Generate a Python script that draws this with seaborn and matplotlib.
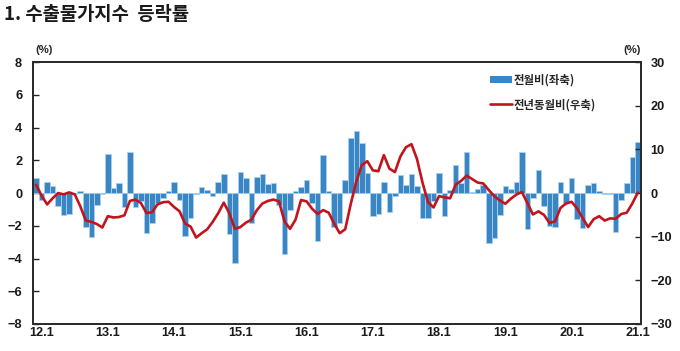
import pandas as pd
import matplotlib.pyplot as plt
import seaborn as sns
from matplotlib.patches import Patch
from matplotlib.lines import Line2D

# 2011.12 ~ 2021.1, monthly
months = pd.period_range("2011-12", periods=110, freq="M")
month_labels = [f"{p.year % 100}.{p.month}" for p in months]

# 전월비 (%), left axis
mom = [0.9, -0.4, 0.65, 0.45, -0.8, -1.35, -1.3, -0.05, 0.15, -2.05,
       -2.7, -0.75, -0.05, 2.4, 0.3, 0.6, -0.85, 2.5, -0.85, -0.5,
       -2.45, -1.8, -0.6, -0.3, 0.15, 0.65, -0.45, -2.6, -1.55, -0.05,
       0.35, 0.2, -0.2, 0.7, 1.15, -2.5, -4.25, 1.3, 0.95, -1.8,
       1.0, 1.15, 0.55, 0.6, -0.75, -3.75, -1.05, 0.1, 0.4, 0.8,
       -0.6, -2.9, 2.35, 0.1, -2.1, -1.8, 0.8, 3.35, 3.8, 3.05,
       1.2, -1.4, -1.3, 0.7, -1.15, -0.2, 1.1, 0.5, 1.15, 0.45,
       -1.55, -1.55, -0.5, 1.2, -1.4, 0.2, 1.7, 0.6, 2.5, 0.05,
       0.25, 0.5, -3.05, -2.75, -1.35, 0.45, 0.25, 0.7, 2.5, -2.2,
       -0.3, 1.4, -0.8, -2.0, -2.1, 0.7, -0.6, 0.95, -1.6, -2.15,
       0.5, 0.6, 0.1, -0.03, -0.03, -2.4, -0.45, 0.6, 2.2, 3.1]

# 전년동월비 (%), right axis
yoy = [1.9, -0.6, -2.6, -1.2, 0.0, -0.3, 0.15, -0.3, -3.0, -6.3,
       -6.6, -7.1, -7.9, -5.3, -5.6, -5.5, -5.1, -1.8, -1.5, -2.3,
       -4.6, -4.4, -2.6, -2.1, -2.0, -3.2, -4.2, -7.0, -7.7, -10.2,
       -9.2, -8.3, -6.6, -4.6, -2.2, -4.6, -8.2, -7.8, -6.8, -6.1,
       -3.9, -2.4, -1.8, -1.5, -1.9, -6.5, -8.2, -6.1, -1.6, -1.9,
       -3.6, -4.8, -3.9, -4.5, -7.0, -9.2, -8.3, -2.5, 2.6, 6.4,
       7.3, 5.2, 5.0, 8.7, 5.6, 4.8, 8.4, 10.5, 11.2, 7.8,
       2.4, -2.1, -3.3, -0.7, -1.0, -1.2, 1.9, 2.8, 4.0, 3.2,
       2.4, 2.2, 0.7, -0.7, -1.7, -2.45, -1.3, -0.35, 0.25, -2.3,
       -4.9, -4.2, -5.0, -6.85, -6.5, -3.4, -2.4, -2.0, -3.5, -5.7,
       -7.8, -6.0, -5.3, -6.3, -5.8, -5.9, -4.8, -4.5, -2.4, 0.1]

tick_labels = ["12.1", "13.1", "14.1", "15.1", "16.1",
               "17.1", "18.1", "19.1", "20.1", "21.1"]

df = pd.DataFrame({"pos": range(len(mom)), "month": month_labels,
                   "mom": mom, "yoy": yoy})

sns.set_style("white")
plt.rcParams["font.family"] = ["Noto Sans CJK KR", "DejaVu Sans"]
num_font = ["Liberation Sans Narrow", "Liberation Sans", "DejaVu Sans"]

fig = plt.figure(figsize=(6.8, 3.51), dpi=100)
ax = fig.add_axes([0.049, 0.077, 0.893, 0.746])

sns.barplot(data=df, x="pos", y="mom", native_scale=True, color="#3A86C5",
            saturation=1, width=1.0, edgecolor="#A9D1EE", linewidth=0.6, ax=ax)
ax.axhline(0, color="#9CC8EA", linewidth=0.6, zorder=0)

ax2 = ax.twinx()
sns.lineplot(data=df, x="pos", y="yoy", color="#C3141E", linewidth=1.9, ax=ax2)

ax.set_xlim(-0.5, len(mom) - 0.5)
ax.set_ylim(-8, 8)
ax2.set_ylim(-30, 30)
ax.set_yticks(range(-8, 9, 2))
ax2.set_yticks(range(-30, 31, 10))
tick_pos = [month_labels.index(t) for t in tick_labels]
ax.set_xticks(tick_pos)
ax.set_xticklabels(tick_labels)
for a in (ax, ax2):
    a.set_xlabel("")
    a.set_ylabel("")
    for s in a.spines.values():
        s.set_color("#2b2b2b")
        s.set_linewidth(1.3)

ax.tick_params(axis="x", length=0, pad=2)
ax.tick_params(axis="y", direction="in", length=4, width=1, pad=8, left=True)
ax2.tick_params(axis="y", direction="in", length=4, width=1, pad=7, right=True)
for lab in ax.get_xticklabels() + ax.get_yticklabels() + ax2.get_yticklabels():
    lab.set_fontfamily(num_font)
    lab.set_fontweight("bold")
    lab.set_fontsize(9.2)
    lab.set_color("#1a1a1a")

fig.text(0.006, 0.958, "1. 수출물가지수  등락률", fontsize=13.5, fontweight="bold",
         va="center", ha="left", color="#1a1a1a")
fig.text(0.052, 0.857, "(%)", fontsize=8.2, fontweight="bold", ha="left", va="center",
         family=num_font)
fig.text(0.942, 0.857, "(%)", fontsize=8.2, fontweight="bold", ha="right", va="center",
         family=num_font)

handles = [Patch(facecolor="#3A86C5", edgecolor="none"),
           Line2D([0], [0], color="#C3141E", linewidth=1.9)]
ax2.legend(handles, ["전월비(좌축)", "전년동월비(우축)"], loc="upper left",
           bbox_to_anchor=(0.735, 0.995), frameon=False, handlelength=1.9,
           handleheight=0.6, handletextpad=0.2, labelspacing=1.0,
           prop={"size": 8.2, "weight": "bold"})

fig.savefig("out.png", dpi=100)
